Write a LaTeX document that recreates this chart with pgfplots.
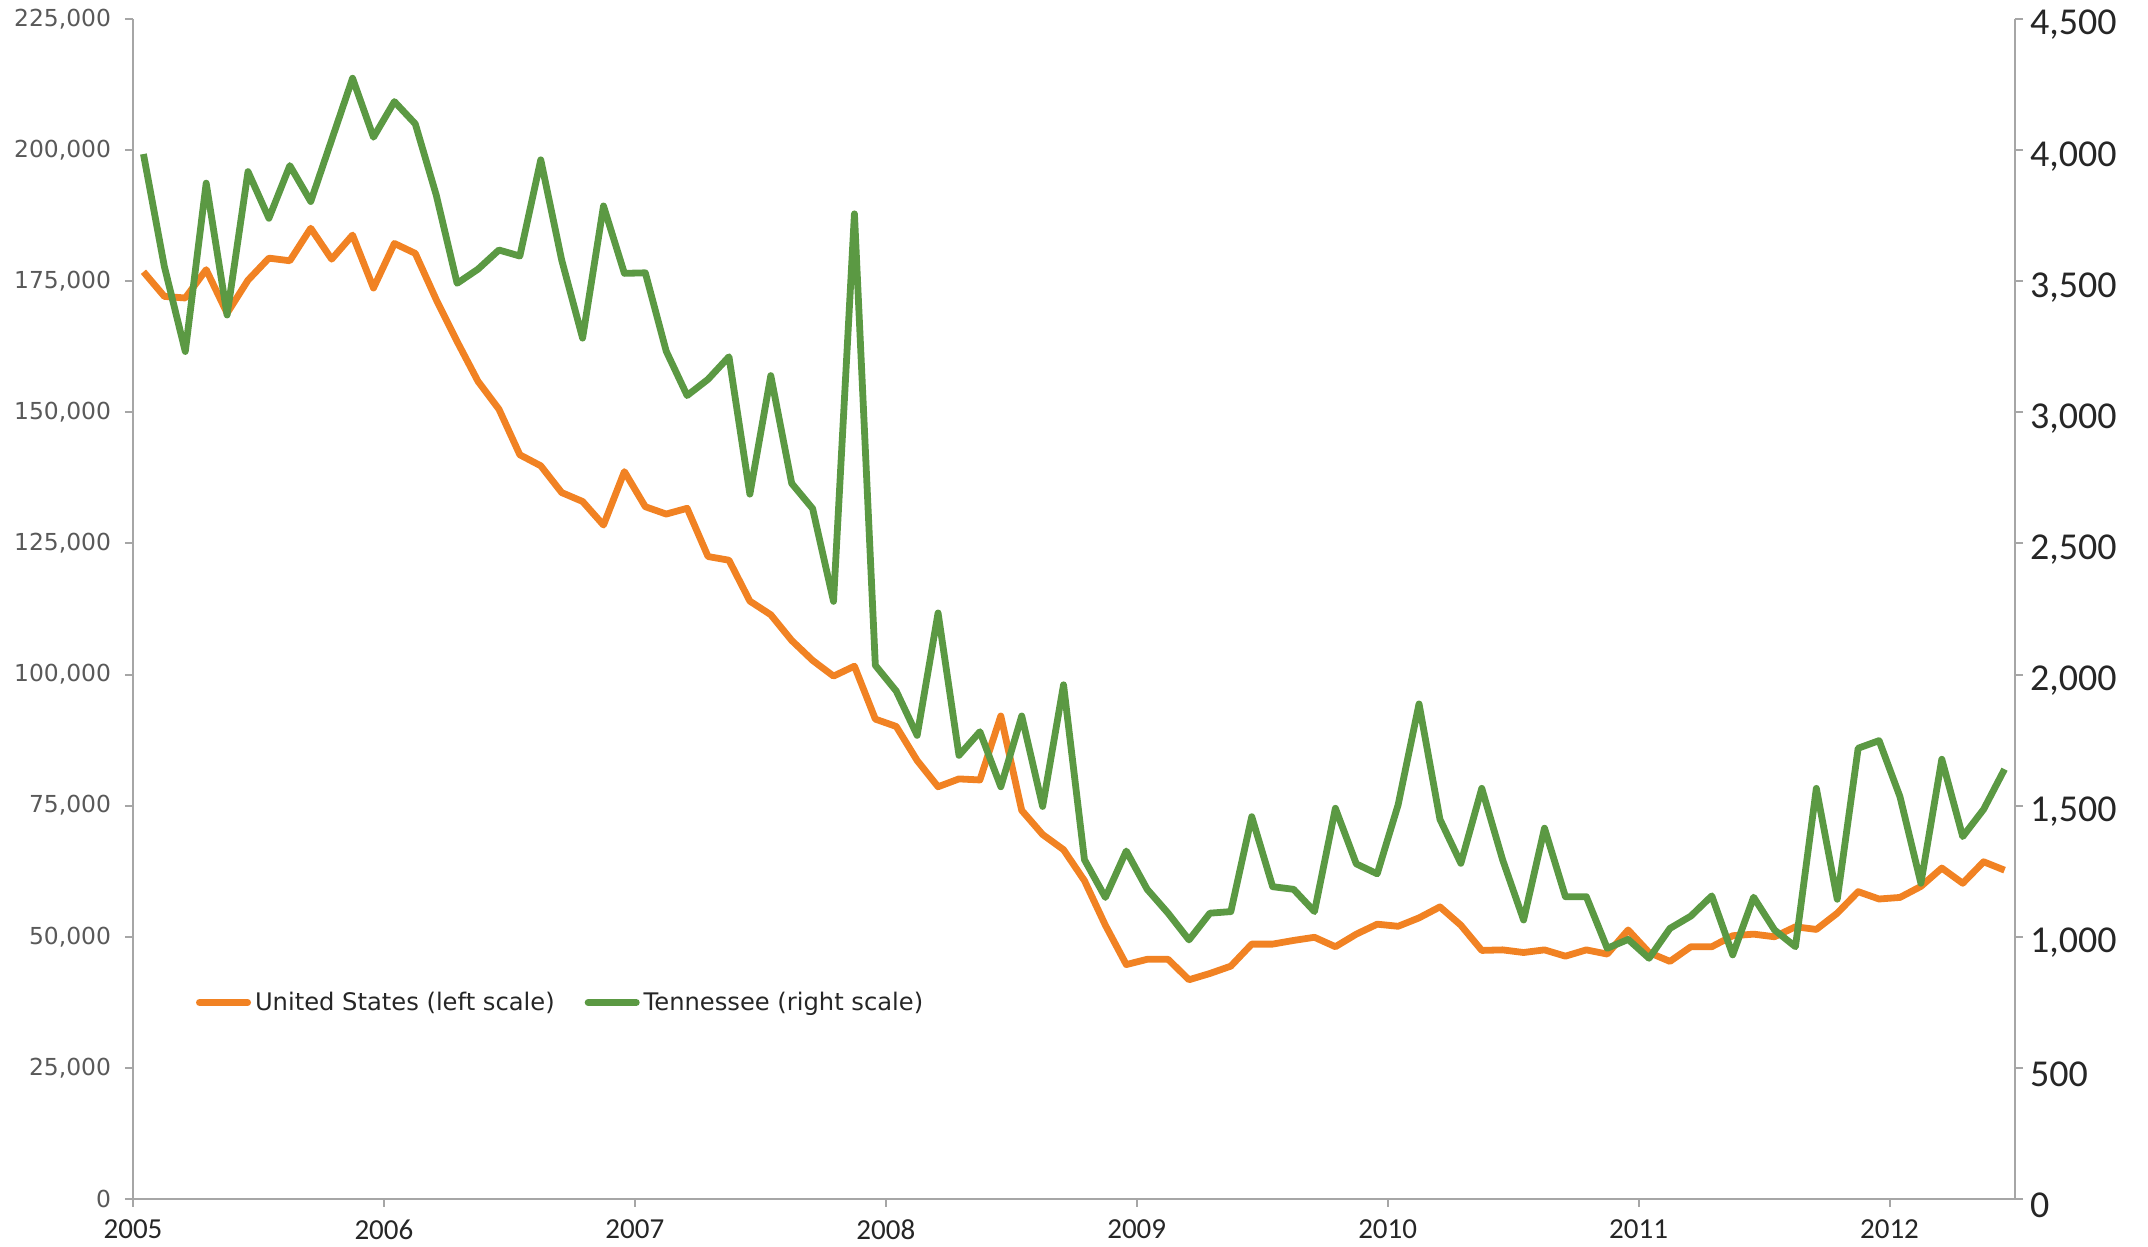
\documentclass[border=0pt]{standalone}
\usepackage{pgfplots}
\pgfplotsset{compat=1.18}
\usepackage{pgfplotstable}
\usepackage{fontspec}
\setmainfont{DejaVu Sans}
\newfontfamily\cfont{Carlito}
\definecolor{usorange}{RGB}{241,130,35}
\definecolor{tngreen}{RGB}{91,153,67}
\definecolor{axgray}{RGB}{166,166,166}
\definecolor{lblgray}{RGB}{89,89,89}
\definecolor{lbldark}{RGB}{38,38,38}

% United States, monthly Jan 2005 - Jun 2012 (left scale)
\pgfplotstableread{
us
176800
172100
171800
177200
168900
175200
179400
178900
185100
179200
183800
173700
182200
180300
171500
163500
155900
150600
141900
139800
134700
133000
128500
138700
132000
130600
131700
122500
121800
114000
111400
106500
102700
99700
101600
91500
90100
83600
78600
80100
79900
92100
74100
69500
66600
60700
52200
44700
45700
45700
41800
43000
44400
48600
48600
49300
49900
48100
50500
52400
52000
53600
55700
52200
47400
47500
47000
47500
46300
47500
46700
51300
47000
45300
48100
48100
50200
50500
50000
51900
51400
54500
58600
57200
57500
59600
63100
60200
64300
62700
}\usdata

% Tennessee, monthly Jan 2005 - Jun 2012 (right scale)
\pgfplotstableread{
tn
3985
3556
3232
3874
3371
3918
3740
3941
3804
4039
4274
4049
4185
4100
3829
3492
3546
3619
3596
3963
3581
3283
3787
3530
3532
3233
3064
3126
3212
2688
3140
2729
2633
2279
3757
2035
1937
1768
2235
1692
1782
1572
1842
1497
1961
1294
1150
1327
1181
1090
988
1090
1096
1458
1191
1181
1096
1490
1278
1240
1503
1888
1448
1280
1566
1293
1064
1414
1153
1153
956
990
918
1032
1079
1156
931
1151
1026
962
1566
1143
1719
1748
1534
1204
1677
1382
1486
1639
}\tndata

\begin{document}
\begin{tikzpicture}
\useasboundingbox (-66.5pt,-24pt) rectangle (1007.5pt,599.5pt);
\begin{axis}[
  at={(0pt,0pt)}, anchor=south west,
  width=941pt, height=590pt, scale only axis,
  xmin=0, xmax=90, ymin=0, ymax=225000,
  axis x line*=bottom, axis y line*=left,
  axis line style={axgray, line width=1pt, -},
  xtick={0,12,24,36,48,60,72,84},
  xticklabels={2005,2006,2007,2008,2009,2010,2011,2012},
  ytick={0,25000,50000,75000,100000,125000,150000,175000,200000,225000},
  scaled y ticks=false,
  tick style={axgray, line width=1pt},
  tick align=outside, major tick length=4pt,
  xticklabel style={font=\cfont\fontsize{14.5}{16}\selectfont, text=lbldark, yshift=-3pt},
  yticklabel style={font=\fontsize{11.7}{13}\selectfont, text=lblgray, xshift=-3.5pt,
     /pgf/number format/fixed, /pgf/number format/1000 sep={,},
     /pgf/number format/assume math mode=true},
  legend style={at={(0.0335,0.1665)}, anchor=west, draw=none, fill=none,
     inner sep=0pt, outer sep=0pt,
     font=\fontsize{12.1}{14}\selectfont, text=lbldark,
     legend columns=2,
     /tikz/every even column/.append style={column sep=13pt}},
  legend image code/.code={\draw[#1, line width=3.4pt, line cap=round] (1.7pt,0pt) -- (25.8pt,0pt);},
]
\addplot[usorange, line width=3.4pt, line join=round, mark=none]
  table[x expr=\coordindex+0.5, y=us]{\usdata};
\addlegendentry{United States (left scale)}
\addlegendimage{tngreen, line width=3.4pt}
\addlegendentry{Tennessee (right scale)}
\end{axis}
\begin{axis}[
  at={(0pt,0pt)}, anchor=south west,
  width=941pt, height=590pt, scale only axis,
  xmin=0, xmax=90, ymin=0, ymax=4500,
  axis x line=none, axis y line*=right,
  axis line style={axgray, line width=1pt, -},
  ytick={0,500,1000,1500,2000,2500,3000,3500,4000,4500},
  scaled y ticks=false,
  tick style={axgray, line width=1pt},
  tick align=outside, major tick length=4pt,
  yticklabel style={font=\cfont\fontsize{19}{21}\selectfont, text=lbldark, yshift=-3pt,
     /pgf/number format/fixed, /pgf/number format/1000 sep={,},
     /pgf/number format/assume math mode=true},
]
\addplot[tngreen, line width=3.4pt, line join=round, mark=none]
  table[x expr=\coordindex+0.5, y=tn]{\tndata};
\end{axis}
\end{tikzpicture}
\end{document}
